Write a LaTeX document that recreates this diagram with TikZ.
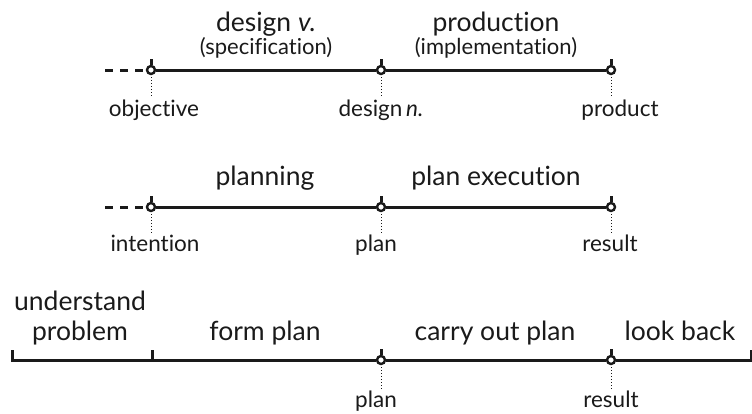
\documentclass[tikz,border=0pt]{standalone}
\usepackage{fontspec}
\setmainfont{Lato}[Ligatures={NoCommon}]
\definecolor{ink}{HTML}{1A1A1A}
\begin{document}
\begin{tikzpicture}[x=1pt,y=-1pt,
  axis/.style={draw=ink, line width=3pt},
  lead/.style={draw=ink, line width=3pt, dash pattern=on 8pt off 7pt},
  milestone/.style={circle, draw=ink, fill=white, line width=2.4pt, minimum size=8pt, inner sep=0pt},
  pointer/.style={draw=ink, line width=1pt, dash pattern=on 1pt off 2pt},
  phase/.style={font=\fontsize{26.5}{30}\selectfont, text=ink, anchor=base, inner sep=0pt, align=center},
  aside/.style={font=\fontsize{22}{24}\selectfont, text=ink, anchor=base, inner sep=0pt},
  tag/.style={font=\fontsize{22.5}{24}\selectfont, text=ink, anchor=base, inner sep=0pt}
]
\useasboundingbox (0,0) rectangle (752,413);

% ---------- design / production ----------
\coordinate (d0) at (105,70);
\node[milestone] (d1) at (151,70) {};
\node[milestone] (d2) at (381,70) {};
\node[milestone] (d3) at (611,70) {};
\draw[lead] (d0) -- (d1);
\draw[axis] (d1) -- (d2);
\draw[axis] (d2) -- (d3);
\foreach \m in {d1,d2,d3} \draw[axis] (\m.north) -- ++(0,-6);

\node[phase] (dv) at (266,31) {design \textit{v.}};
\node[aside] (ds) at (266,54) {(specification)};
\node[phase] (dp) at (496,31) {production};
\node[aside] (di) at (496,54) {(implementation)};

\node[tag] (lobj) at (154,116) {objective};
\node[tag] (ldes) at (381,116) {design\,\textit{n.}};
\node[tag] (lprod) at (620,116) {product};
\draw[pointer] (d1.south) ++(0,2) -- ([yshift=2pt]d1 |- lobj.north);
\draw[pointer] (d2.south) ++(0,2) -- ([yshift=2pt]d2 |- ldes.north);
\draw[pointer] (d3.south) ++(0,2) -- ([yshift=2pt]d3 |- lprod.north);

% ---------- planning / plan execution ----------
\coordinate (p0) at (105,207);
\node[milestone] (p1) at (151,207) {};
\node[milestone] (p2) at (381,207) {};
\node[milestone] (p3) at (611,207) {};
\draw[lead] (p0) -- (p1);
\draw[axis] (p1) -- (p2);
\draw[axis] (p2) -- (p3);
\foreach \m in {p1,p2,p3} \draw[axis] (\m.north) -- ++(0,-6);

\node[phase] (pp) at (265,185) {planning};
\node[phase] (pe) at (496,185) {plan execution};

\node[tag] (lint) at (155,251) {intention};
\node[tag] (lplan) at (376,251) {plan};
\node[tag] (lres) at (610,251) {result};
\draw[pointer] (p1.south) ++(0,2) -- ([yshift=2pt]p1 |- lint.north);
\draw[pointer] (p2.south) ++(0,2) -- ([yshift=2pt]p2 |- lplan.north);
\draw[pointer] (p3.south) ++(0,2) -- ([yshift=2pt]p3 |- lres.north);

% ---------- problem-solving stages ----------
\coordinate (s0) at (12,360);
\coordinate (s1) at (152,360);
\node[milestone] (s2) at (381,360) {};
\node[milestone] (s3) at (611,360) {};
\coordinate (s4) at (751,360);
\draw[axis] ([yshift=10pt]s0) -- (s0) -- (s2);
\draw[axis] (s1) -- ([yshift=10pt]s1);
\draw[axis] (s2) -- (s3);
\draw[axis] (s3) -- (s4) -- ([yshift=10pt]s4);
\foreach \m in {s2,s3} \draw[axis] (\m.north) -- ++(0,-6);

% base anchor of a two-line node sits on its last line
\node[phase] (su) at (80,340) {understand\\problem};
\node[phase] (sf) at (265,340) {form plan};
\node[phase] (sc) at (495,340) {carry out plan};
\node[phase] (sl) at (680,340) {look back};

\node[tag] (lplan2) at (376,407) {plan};
\node[tag] (lres2) at (611,407) {result};
\draw[pointer] (s2.south) ++(0,2) -- ([yshift=2pt]s2 |- lplan2.north);
\draw[pointer] (s3.south) ++(0,2) -- ([yshift=2pt]s3 |- lres2.north);
\end{tikzpicture}
\end{document}
